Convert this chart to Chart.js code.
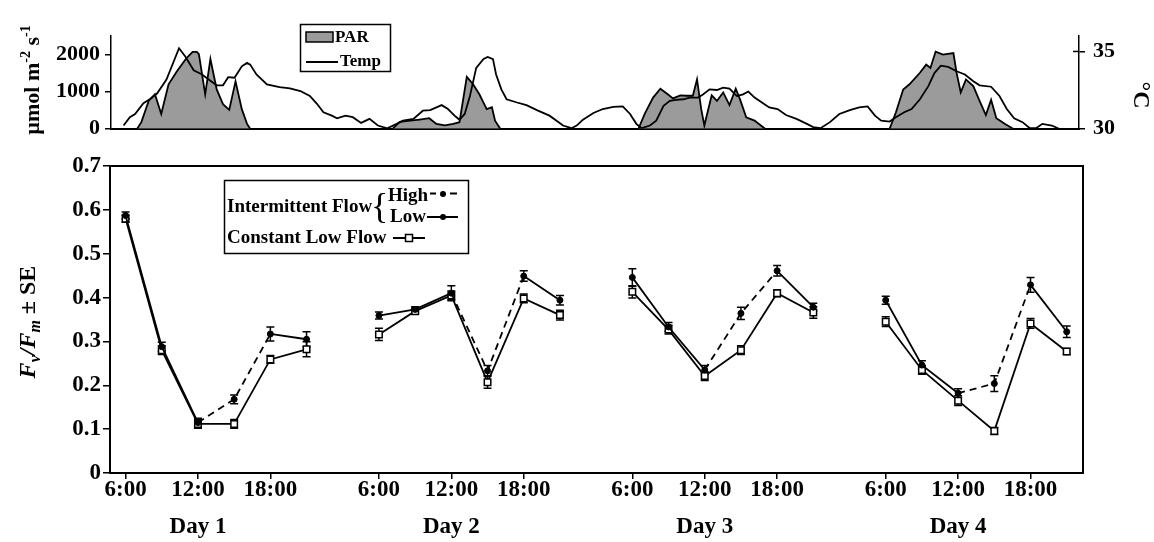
<!DOCTYPE html>
<html><head><meta charset="utf-8">
<script src="https://cdn.jsdelivr.net/npm/chart.js@4"></script>
<style>
html,body{margin:0;padding:0;background:#fff;}
#wrap{position:relative;width:1154px;height:542px;overflow:hidden;background:#fff;}
#top{position:absolute;left:0;top:0;}
#bot{position:absolute;left:0;top:140px;}
</style></head><body>
<div id="wrap">
<canvas id="top" width="1154" height="150"></canvas>
<canvas id="bot" width="1154" height="402"></canvas>
</div>
<script>
// ---------- TOP PANEL DATA (hours since Day 1 00:00) ----------
const parHours = [6.0,6.4,7.1,7.7,8.3,9.0,9.8,10.7,11.3,11.7,11.9,12.5,13.0,13.6,14.2,14.8,15.4,16.0,16.5,16.8,
  30.4,31.1,32.1,33.0,33.9,34.6,35.4,36.2,36.8,37.5,38.1,38.7,39.4,39.9,40.2,40.7,
  53.9,54.5,55.3,56.0,56.7,57.2,57.9,58.5,59.1,59.5,59.9,60.2,60.5,60.9,61.4,62.0,62.6,63.2,63.6,64.2,65.0,66.0,
  77.9,78.5,79.2,79.8,80.8,81.4,81.8,82.3,83.0,84.0,84.3,84.7,85.2,85.9,86.5,87.1,87.6,88.1,88.9,89.7];
const parValues = [0,180,750,930,400,1200,1550,1900,2070,2070,2010,930,1880,1060,665,510,1280,530,133,0,
  0,190,220,250,285,130,90,130,178,1400,1200,930,530,580,220,0,
  0,400,840,1080,930,820,900,890,890,1330,530,88,440,900,750,980,640,1080,800,310,220,0,
  0,440,1060,1200,1510,1730,1640,2080,2000,2040,1510,980,1330,1150,750,370,780,285,133,0];
const tempHours = [4.7,5.3,5.8,6.6,7.2,7.9,8.8,10.0,10.6,11.4,12.2,12.9,13.6,14.2,14.7,15.3,16.0,16.5,16.8,17.4,
  18.4,19.6,20.6,21.6,22.5,23.2,23.8,24.6,25.1,25.9,26.6,27.4,28.2,29.0,29.9,
  30.8,31.4,32.4,33.3,34.0,35.1,35.7,36.4,36.8,37.3,37.8,38.4,39.1,39.5,40.0,40.3,40.8,41.3,42.3,43.2,44.2,45.4,46.7,47.5,
  48.0,48.6,49.6,50.5,51.5,52.4,53.1,53.7,54.2,55.0,55.6,56.3,56.9,57.5,58.2,58.8,59.6,60.1,60.7,61.4,
  62.0,62.6,63.3,63.9,64.4,65.0,65.7,66.4,67.2,68.0,69.0,70.0,70.6,71.3,
  72.2,73.1,74.1,75.0,75.8,76.5,77.1,77.9,78.5,79.3,80.0,80.8,81.6,82.2,82.8,83.5,84.3,85.1,85.9,86.5,
  87.6,88.4,89.1,89.8,90.6,91.3,91.9,92.5,93.4,94.1];
const tempValues = [30.21,30.75,30.95,31.66,31.91,32.28,33.19,35.21,34.68,33.78,33.51,33.15,32.81,32.81,33.34,33.30,34.04,34.26,34.15,33.51,
  32.87,32.70,32.62,32.44,32.12,31.60,31.07,30.85,30.68,30.85,30.75,30.38,30.64,30.21,30.03,
  30.32,30.53,30.64,31.17,31.21,31.53,31.28,30.81,30.59,30.96,32.12,33.94,34.51,34.64,34.51,33.51,32.55,31.91,31.70,31.53,31.21,30.85,30.21,30.04,
  30.21,30.59,31.02,31.28,31.42,31.45,30.96,30.32,30.04,30.21,30.53,31.49,31.81,31.87,31.91,32.02,32.02,32.23,32.55,32.51,
  32.66,32.60,32.12,32.23,32.41,32.02,31.70,31.38,31.28,30.89,30.64,30.32,30.11,30.04,
  30.43,30.96,31.21,31.38,31.45,30.85,30.53,30.47,30.75,31.07,31.28,31.91,32.76,33.62,34.08,34.00,33.72,33.51,33.08,32.81,
  32.72,32.12,31.28,30.68,30.43,30.04,30.04,30.32,30.21,30.00];
const parTicks = [0, 1000, 2000];
const tempTicks = [30, 35];

// ---------- BOTTOM PANEL DATA ----------
const days = ['Day 1','Day 2','Day 3','Day 4'];
const hours = ['6:00','9:00','12:00','15:00','18:00','21:00'];
const tickHours = ['6:00','12:00','18:00'];
// flow regime of the intermittent treatment in each interval after a sampling time
const intermittentFlow = ['Low','Low','High','High','Low','Low'];
const intermittent = [0.587,0.288,0.115,0.168,0.317,0.305, 0.359,0.373,0.410,0.233,0.449,0.394,
                      0.446,0.333,0.235,0.364,0.461,0.378, 0.394,0.246,0.182,0.204,0.429,0.322];
const intermittentSE = [0.008,0.010,0.010,0.010,0.016,0.017, 0.008,0.006,0.017,0.012,0.012,0.011,
                        0.020,0.010,0.010,0.014,0.012,0.009, 0.009,0.010,0.010,0.018,0.017,0.013];
const constant = [0.580,0.280,0.112,0.112,0.259,0.282, 0.316,0.369,0.405,0.207,0.398,0.360,
                  0.413,0.327,0.221,0.280,0.410,0.366, 0.345,0.235,0.165,0.096,0.341,0.277];
const constantSE = [0.008,0.010,0.010,0.010,0.009,0.017, 0.014,0.006,0.010,0.014,0.010,0.011,
                    0.014,0.010,0.010,0.010,0.008,0.013, 0.011,0.010,0.011,0.008,0.011,0.007];

const FONT = '"Liberation Serif", "Times New Roman", serif';
Chart.defaults.font.family = FONT;
Chart.defaults.font.weight = 'bold';
Chart.defaults.color = '#000';
Chart.defaults.animation = false;

function f(style, size){ return style + ' ' + size + 'px ' + FONT; }
function drawRich(ctx, parts, cx, cy, rot, baseOff){
  ctx.save(); ctx.translate(cx, cy); ctx.rotate(rot);
  let total = 0;
  parts.forEach(p => { ctx.font = p.font; p.w = ctx.measureText(p.t).width; total += p.w; });
  let x = -total / 2;
  ctx.textBaseline = 'alphabetic'; ctx.textAlign = 'left'; ctx.fillStyle = '#000';
  parts.forEach(p => { ctx.font = p.font; ctx.fillText(p.t, x, baseOff + (p.dy || 0)); x += p.w; });
  ctx.restore();
}

// ---------- TOP CHART ----------
const topDecor = {
  id: 'topDecor',
  afterDraw(chart){
    const ctx = chart.ctx;
    const yT = chart.scales.yT;
    ctx.save(); ctx.strokeStyle = '#000'; ctx.lineWidth = 1.5;
    yT.ticks.forEach(t => { if (t.value > 30) { const y = yT.getPixelForValue(t.value); ctx.beginPath(); ctx.moveTo(yT.left - 6, y); ctx.lineTo(yT.left, y); ctx.stroke(); } });
    // legend
    ctx.lineWidth = 1.5;
    ctx.strokeRect(300.5, 24.5, 90, 47);
    ctx.fillStyle = '#9b9b9b'; ctx.fillRect(306, 32, 27, 10); ctx.strokeRect(306, 32, 27, 10);
    ctx.lineWidth = 2; ctx.beginPath(); ctx.moveTo(306, 62); ctx.lineTo(338, 62); ctx.stroke();
    ctx.fillStyle = '#000'; ctx.font = f('bold', 17); ctx.textBaseline = 'middle'; ctx.textAlign = 'left';
    ctx.fillText('PAR', 335, 38); ctx.fillText('Temp', 340, 62);
    ctx.restore();
    drawRich(ctx, [{t:'µmol m', font:f('bold',22)}, {t:'-2', font:f('bold',14), dy:-9},
                   {t:' s', font:f('bold',22)}, {t:'-1', font:f('bold',14), dy:-9}], 31, 80, -Math.PI/2, 8);
    drawRich(ctx, [{t:'°C', font:f('bold',24)}], 1142, 95, Math.PI/2, 8);
  }
};

new Chart(document.getElementById('top'), {
  type: 'line',
  data: { datasets: [
    { label: 'Temp', data: tempHours.map((h, i) => ({x: h, y: tempValues[i]})), yAxisID: 'yT',
      borderColor: '#000', borderWidth: 1.8, pointRadius: 0, fill: false, tension: 0 },
    { label: 'PAR', data: parHours.map((h, i) => ({x: h, y: parValues[i]})), yAxisID: 'yP',
      borderColor: '#000', borderWidth: 1.8, backgroundColor: '#9b9b9b', fill: 'origin', pointRadius: 0, tension: 0 }
  ]},
  options: {
    responsive: false, animation: false, events: [],
    layout: { padding: { top: 36, left: 0, right: 0, bottom: 0 } },
    plugins: { legend: { display: false }, tooltip: { enabled: false } },
    scales: {
      x: { type: 'linear', min: 3.5, max: 96, z: 1,
           ticks: { display: false }, grid: { display: false },
           border: { display: true, color: '#000', width: 2 },
           afterFit(s){ s.height = 20; } },
      yP: { position: 'left', min: 0, max: 2500,
            afterBuildTicks(s){ s.ticks = parTicks.map(v => ({value: v})); },
            ticks: { font: { size: 22 }, padding: 5, callback: v => String(v) },
            grid: { drawOnChartArea: false, tickLength: 6, color: '#000', lineWidth: 1.5 },
            border: { color: '#000', width: 1.5 },
            afterFit(s){ s.width = 111; } },
      yT: { position: 'right', min: 30, max: 36,
            afterBuildTicks(s){ s.ticks = tempTicks.map(v => ({value: v})); },
            ticks: { font: { size: 22 }, padding: 8, callback: v => String(v) },
            grid: { drawOnChartArea: false, tickLength: 6, color: '#000', lineWidth: 1.5 },
            border: { color: '#000', width: 1.5 },
            afterFit(s){ s.width = 75; } }
    }
  },
  plugins: [topDecor]
});

// ---------- BOTTOM CHART ----------
const slots = [];
days.forEach((d, di) => hours.forEach((h, hi) => slots.push(di * 7 + hi)));
const tickSlots = [];
days.forEach((d, di) => hours.forEach((h, hi) => { if (tickHours.includes(h)) tickSlots.push(di * 7 + hi); }));
function series(vals){
  const out = [];
  vals.forEach((v, i) => { out.push({x: slots[i], y: v}); if (i % 6 === 5 && i < vals.length - 1) out.push({x: slots[i] + 1, y: null}); });
  return out;
}
const intData = series(intermittent);
const conData = series(constant);

const botDecor = {
  id: 'botDecor',
  beforeDatasetsDraw(chart){
    const ctx = chart.ctx, xs = chart.scales.x, ys = chart.scales.y;
    ctx.save(); ctx.strokeStyle = '#000'; ctx.lineWidth = 1.5;
    [[intermittent, intermittentSE], [constant, constantSE]].forEach(([vals, se]) => {
      vals.forEach((v, i) => {
        const x = xs.getPixelForValue(slots[i]);
        const y1 = ys.getPixelForValue(v + se[i]), y2 = ys.getPixelForValue(v - se[i]);
        ctx.beginPath();
        ctx.moveTo(x, y1); ctx.lineTo(x, y2);
        ctx.moveTo(x - 4, y1); ctx.lineTo(x + 4, y1);
        ctx.moveTo(x - 4, y2); ctx.lineTo(x + 4, y2);
        ctx.stroke();
      });
    });
    ctx.restore();
  },
  afterDraw(chart){
    const ctx = chart.ctx, a = chart.chartArea;
    ctx.save();
    ctx.strokeStyle = '#000'; ctx.lineWidth = 2;
    ctx.strokeRect(a.left, a.top, a.right - a.left, a.bottom - a.top);
    // legend box
    ctx.lineWidth = 1.5;
    ctx.strokeRect(224.5, 40.5, 244, 73);
    ctx.fillStyle = '#000'; ctx.textBaseline = 'middle'; ctx.textAlign = 'left';
    ctx.font = f('bold', 19);
    ctx.fillText('Intermittent Flow', 227, 67);
    ctx.fillText('High', 388, 56);
    ctx.fillText('Low', 390, 77);
    ctx.fillText('Constant Low Flow', 227, 98);
    ctx.font = f('normal', 36); ctx.textBaseline = 'alphabetic';
    ctx.fillText('{', 371, 78);
    ctx.lineWidth = 2;
    ctx.beginPath(); ctx.moveTo(430, 53.5); ctx.lineTo(436, 53.5); ctx.moveTo(450, 53.5); ctx.lineTo(457, 53.5); ctx.stroke();
    ctx.beginPath(); ctx.arc(443, 54, 3, 0, Math.PI * 2); ctx.fill();
    ctx.beginPath(); ctx.moveTo(427, 77); ctx.lineTo(458, 77); ctx.stroke();
    ctx.beginPath(); ctx.arc(443, 77, 3, 0, Math.PI * 2); ctx.fill();
    ctx.beginPath(); ctx.moveTo(393, 98); ctx.lineTo(425, 98); ctx.stroke();
    ctx.fillStyle = '#fff'; ctx.lineWidth = 1.5;
    ctx.fillRect(405.5, 94.5, 7, 7); ctx.strokeRect(405.5, 94.5, 7, 7);
    ctx.restore();
    drawRich(ctx, [{t:'F', font:f('italic bold',24)}, {t:'v', font:f('italic bold',16), dy:5},
                   {t:'/F', font:f('italic bold',24)}, {t:'m', font:f('italic bold',16), dy:5},
                   {t:' ± SE', font:f('bold',24)}], 27, 182, -Math.PI/2, 8);
  }
};

new Chart(document.getElementById('bot'), {
  type: 'line',
  data: { datasets: [
    { label: 'Intermittent Flow', data: intData, borderColor: '#000', borderWidth: 1.8, spanGaps: false,
      pointStyle: 'circle', pointRadius: 3, pointBackgroundColor: '#000', pointBorderColor: '#000', pointBorderWidth: 1,
      segment: { borderDash: c => intermittentFlow[intData[c.p0DataIndex].x % 7] === 'High' ? [7, 5] : undefined } },
    { label: 'Constant Low Flow', data: conData, borderColor: '#000', borderWidth: 1.8, spanGaps: false,
      pointStyle: 'rect', pointRadius: 4.6, pointBackgroundColor: '#fff', pointBorderColor: '#000', pointBorderWidth: 1.5 }
  ]},
  options: {
    responsive: false, animation: false, events: [],
    layout: { padding: { top: 26, left: 0, right: 71, bottom: 0 } },
    plugins: { legend: { display: false }, tooltip: { enabled: false } },
    scales: {
      x: { type: 'linear', min: -0.43, max: 26.45,
           afterBuildTicks(s){ s.ticks = tickSlots.map(v => ({value: v})); },
           ticks: { autoSkip: false, maxRotation: 0, minRotation: 0, font: { size: 23, lineHeight: 1.6 }, padding: -7,
                    callback(v){ const di = Math.floor(v / 7), hi = Math.round(v - di * 7); return hours[hi] === '12:00' ? [hours[hi], days[di]] : hours[hi]; } },
           grid: { drawOnChartArea: false, tickLength: 6, color: '#000', lineWidth: 1.5 },
           border: { color: '#000', width: 2 },
           afterFit(s){ s.height = 69; } },
      y: { min: 0, max: 0.7,
           ticks: { stepSize: 0.1, font: { size: 23 }, padding: 2, callback: v => (Math.abs(v) < 1e-9 ? '0' : v.toFixed(1)) },
           grid: { drawOnChartArea: false, tickLength: 7, color: '#000', lineWidth: 1.5 },
           border: { color: '#000', width: 2 },
           afterFit(s){ s.width = 110; } }
    }
  },
  plugins: [botDecor]
});
</script>
</body></html>
